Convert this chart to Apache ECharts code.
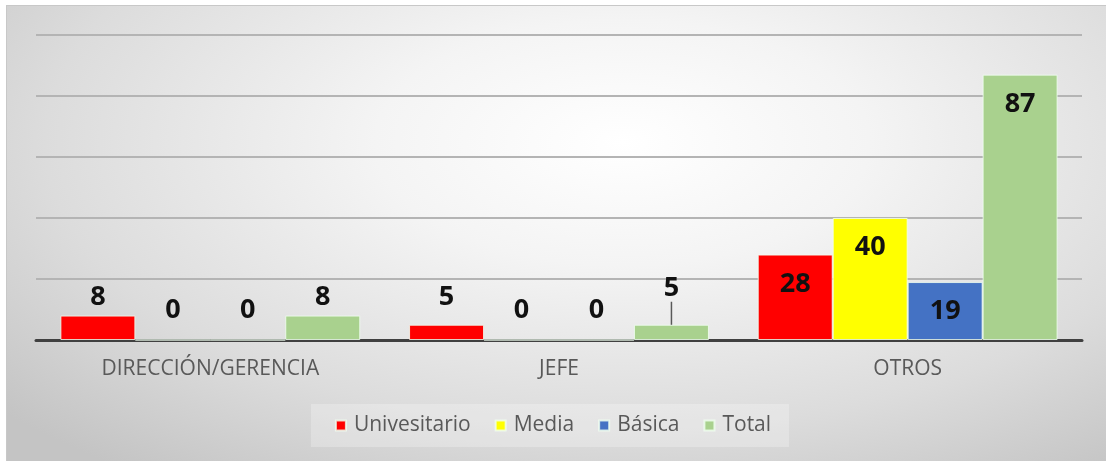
<!DOCTYPE html>
<html>
<head>
<meta charset="utf-8">
<script src="https://cdn.jsdelivr.net/npm/echarts@6/dist/echarts.min.js"></script>
<style>
html,body{margin:0;padding:0;background:#fff;}
#bg{position:absolute;left:6px;top:5px;width:1100px;height:456px;
background:radial-gradient(ellipse 75% 90% at 56% 30%, #ffffff 0%, #f4f4f4 30%, #dcdcdc 70%, #c4c4c4 100%);
border-top:1px solid #c8c8c8;border-left:1px solid #c8c8c8;box-sizing:border-box;}
#chart{position:absolute;left:0;top:0;width:1106px;height:461px;}
</style>
</head>
<body>
<div id="bg"></div>
<div id="chart"></div>
<script>
const categories = ['DIRECCIÓN/GERENCIA', 'JEFE', 'OTROS'];
const seriesNames = ['Univesitario', 'Media', 'Básica', 'Total'];
const univesitario = [8, 5, 28];
const media = [0, 0, 40];
const basica = [0, 0, 19];
const total = [8, 5, 87];
const yMin = 0, yMax = 100, yInterval = 20;

const colors = ['#FF0000', '#FFFF00', '#4472C4', '#A9D18E'];
const values = [univesitario, media, basica, total];
const FONT = '"Open Sans", Lato, sans-serif';

function buildData(arr, si) {
  return arr.map((v, i) => {
    const item = { value: v, label: {} };
    if (v > 15) {
      item.label.position = 'insideTop';
      item.label.distance = 16;
    } else if (v === 0) {
      item.label.distance = 16;
    } else if (v === 5 && si === 0) {
      item.label.distance = 14;
    } else {
      item.label.distance = 5;
    }
    if (si === 3 && i === 1) {
      item.labelLine = { show: true, length2: 0, lineStyle: { color: '#595959', width: 1.5 } };
    }
    return item;
  });
}

const chart = echarts.init(document.getElementById('chart'));
chart.setOption({
  backgroundColor: 'transparent',
  animation: false,
  textStyle: { fontFamily: FONT },
  grid: { left: 36, right: 24, top: 35, bottom: 121, containLabel: false },
  legend: {
    data: seriesNames,
    bottom: 14,
    left: 'center',
    itemWidth: 10,
    itemHeight: 10,
    itemGap: 24,
    icon: 'rect',
    padding: [11, 18, 11, 24],
    backgroundColor: 'rgba(255,255,255,0.25)',
    textStyle: { fontSize: 21, color: '#595959', fontFamily: FONT, padding: [0, 0, 0, 3] }
  },
  xAxis: {
    type: 'category',
    data: categories,
    axisTick: { show: false },
    axisLine: { lineStyle: { color: '#404040', width: 3 } },
    axisLabel: { fontSize: 21, color: '#595959', margin: 19, fontFamily: FONT }
  },
  yAxis: {
    type: 'value',
    min: yMin, max: yMax, interval: yInterval,
    axisLabel: { show: false },
    axisLine: { show: false },
    axisTick: { show: false },
    splitLine: { lineStyle: { color: '#b4b4b4', width: 2 } }
  },
  series: seriesNames.map((name, si) => ({
    name: name,
    type: 'bar',
    data: buildData(values[si], si),
    barGap: '0%',
    barCategoryGap: '14%',
    itemStyle: { color: colors[si], borderColor: 'rgba(240,255,240,0.8)', borderWidth: 1 },
    label: {
      show: true,
      position: 'top',
      fontSize: 27,
      fontWeight: 'bold',
      color: '#111',
      fontFamily: FONT
    },
    labelLayout: si === 3 ? function (p) { return p.dataIndex === 1 ? { dy: -18 } : {}; } : undefined
  }))
});
</script>
</body>
</html>
